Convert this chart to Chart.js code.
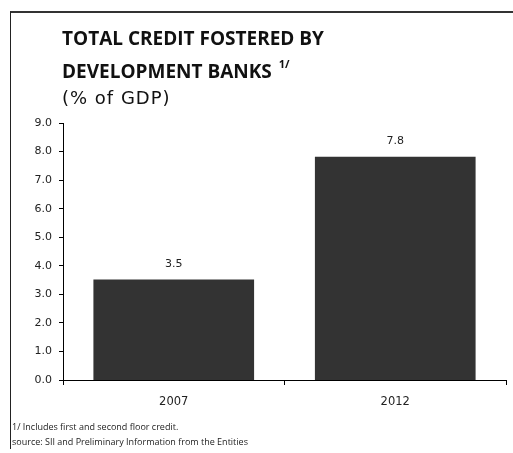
<!DOCTYPE html>
<html>
<head>
<meta charset="utf-8">
<script src="https://cdn.jsdelivr.net/npm/chart.js@4.4.0/dist/chart.umd.min.js"></script>
<style>
  html, body { margin: 0; padding: 0; background: #fff; }
  #wrap { position: relative; width: 513px; height: 453px; overflow: hidden; }
  #frame { position: absolute; left: 10px; top: 11px; width: 510px; height: 436px;
           border-top: 2px solid #333; border-left: 1px solid #222; }
  #myChart { position: absolute; left: 0; top: 0; }
  .title { position: absolute; left: 62px; font-family: "Open Sans", sans-serif; font-weight: bold;
           font-size: 19px; color: #111; white-space: nowrap; line-height: 1; }
  .title sup { font-size: 11px; position: relative; top: -3px; margin-left: 2px; }
  .unit { position: absolute; left: 62px; top: 89px; font-family: "DejaVu Sans", sans-serif;
          font-size: 18px; letter-spacing: 1px; color: #111; line-height: 1; }
  .note { position: absolute; left: 12px; font-family: "Open Sans", sans-serif; font-size: 9px;
          color: #222; white-space: nowrap; line-height: 1; }
</style>
</head>
<body>
<div id="wrap">
  <div id="frame"></div>
  <canvas id="myChart" width="513" height="453"></canvas>
  <div class="title" style="top:29px">TOTAL CREDIT FOSTERED BY</div>
  <div class="title" style="top:61px">DEVELOPMENT BANKS <sup>1/</sup></div>
  <div class="unit">(% of GDP)</div>
  <div class="note" style="top:422px">1/ Includes first and second floor credit.</div>
  <div class="note" style="top:437px">source: SII and Preliminary Information from the Entities</div>
</div>
<script>
const years = ['2007', '2012'];
const creditShare = [3.5, 7.8];
const yTicks = [0, 1, 2, 3, 4, 5, 6, 7, 8, 9];

// writes the value above each bar
const valueLabels = {
  id: 'valueLabels',
  afterDatasetsDraw(chart) {
    const ctx = chart.ctx;
    const meta = chart.getDatasetMeta(0);
    ctx.save();
    ctx.font = '11px "DejaVu Sans"';
    ctx.fillStyle = '#222';
    ctx.textAlign = 'center';
    ctx.textBaseline = 'middle';
    meta.data.forEach((bar, i) => {
      ctx.fillText(creditShare[i].toFixed(1), bar.x, bar.y - 16);
    });
    ctx.restore();
  }
};

const config = {
  type: 'bar',
  data: {
    labels: years,
    datasets: [{
      data: creditShare,
      backgroundColor: '#333333',
      borderWidth: 0,
      inflateAmount: 0.6,
      categoryPercentage: 0.72,
      barPercentage: 1.0
    }]
  },
  options: {
    responsive: false,
    animation: false,
    events: [],
    layout: { padding: { top: 123, right: 7, bottom: 0, left: 0 } },
    plugins: {
      legend: { display: false },
      tooltip: { enabled: false }
    },
    scales: {
      x: {
        offset: true,
        afterFit(scale) { scale.height = 73; },
        border: { display: true, color: '#000', width: 1, z: 1 },
        grid: { offset: true, drawOnChartArea: false, drawTicks: true, tickLength: 5, color: '#000' },
        ticks: { color: '#222', padding: 10, font: { family: 'DejaVu Sans', size: 11.5 } }
      },
      y: {
        min: 0,
        max: 9,
        afterFit(scale) { scale.width = 63; },
        afterBuildTicks(scale) { scale.ticks = yTicks.map(v => ({ value: v })); },
        border: { display: true, color: '#000', width: 1 },
        grid: { drawOnChartArea: false, drawTicks: true, tickLength: 4, color: '#000' },
        ticks: {
          color: '#222',
          padding: 7,
          font: { family: 'DejaVu Sans', size: 11 },
          callback: (v) => Number(v).toFixed(1)
        }
      }
    }
  },
  plugins: [valueLabels]
};

new Chart(document.getElementById('myChart'), config);
</script>
</body>
</html>
